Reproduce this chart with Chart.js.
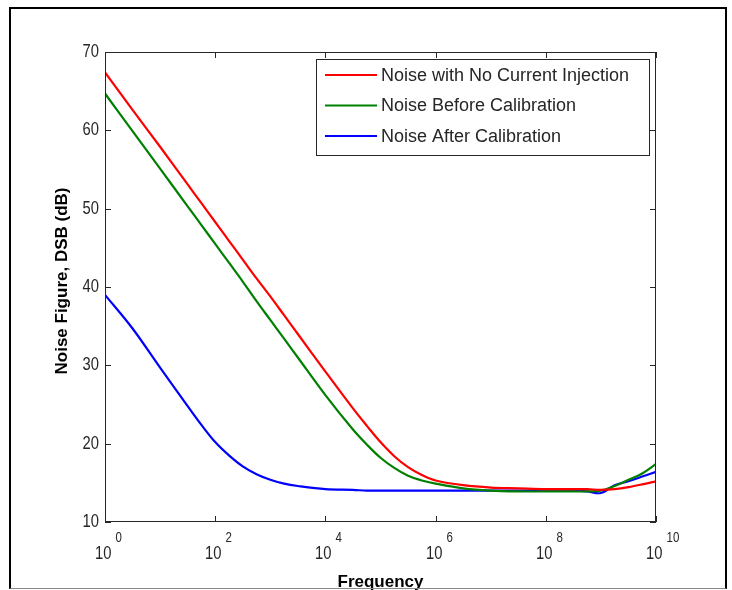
<!DOCTYPE html>
<html>
<head>
<meta charset="utf-8">
<script src="https://cdn.jsdelivr.net/npm/chart.js@4.4.0/dist/chart.umd.min.js"></script>
<style>
  html, body { margin: 0; padding: 0; background: #fff; }
  #wrap { position: relative; width: 732px; height: 590px; overflow: hidden; }
  #frame {
    position: absolute; left: 9px; top: 7px; width: 714px; height: 579px;
    border: 2px solid #000; border-bottom: 1px solid #888; pointer-events: none;
  }
</style>
</head>
<body>
<div id="wrap">
  <canvas id="chart" width="732" height="590"></canvas>
  <div id="frame"></div>
</div>
<script>
// Noise figure vs frequency (log x)

// frequency as decade exponent (10^e Hz)
const freqExp = [0, 0.5, 1, 1.5, 1.75, 2, 2.25, 2.5, 2.75, 3, 3.25, 3.5, 4, 4.5, 4.75, 5,
  5.25, 5.5, 5.75, 6, 6.5, 7, 7.5, 8, 8.5, 8.75, 9, 9.25, 9.5, 9.75, 10];

const noNoiseInjection = [67.4, 62.6, 57.9, 53.1, 50.7, 48.3, 45.9, 43.5, 41.1, 38.8, 36.4, 34.0, 29.2, 24.5, 22.3, 20.2,
  18.4, 17.0, 16.0, 15.3, 14.7, 14.4, 14.3, 14.2, 14.2, 14.2, 14.1, 14.2, 14.45, 14.8, 15.2];

const beforeCalibration = [64.7, 59.9, 55.1, 50.3, 47.9, 45.5, 43.1, 40.7, 38.2, 35.8, 33.4, 31.0, 26.2, 21.8, 19.9, 18.2,
  16.9, 15.9, 15.3, 14.9, 14.3, 14.0, 13.9, 13.9, 13.9, 13.9, 14.0, 14.6, 15.4, 16.2, 17.4];

const afterCalibration = [39.0, 34.7, 29.7, 24.8, 22.4, 20.2, 18.5, 17.1, 16.1, 15.4, 14.9, 14.6, 14.2, 14.1, 14.0, 14.0,
  14.0, 14.0, 14.0, 14.0, 14.0, 14.0, 14.0, 14.0, 14.0, 13.9, 13.7, 14.7, 15.2, 15.8, 16.4];

const seriesLabels = ['Noise with No Current Injection', 'Noise Before Calibration', 'Noise After Calibration'];
const seriesColors = ['#ff0000', '#008000', '#0000ff'];

const yTicks = [10, 20, 30, 40, 50, 60, 70];
const xTickExps = [0, 2, 4, 6, 8, 10];

const xTitle = 'Frequency';
const yTitle = 'Noise Figure, DSB (dB)';

const tickFont = '18px "Liberation Sans", Arial, sans-serif';
const expFont = '14px "Liberation Sans", Arial, sans-serif';

function toPoints(values) {
  return values.map((v, i) => ({ x: Math.pow(10, freqExp[i]), y: v }));
}

// narrow text like the old matlab helvetica
function narrowText(ctx, text, x, y) {
  ctx.save();
  ctx.translate(x, y);
  ctx.scale(0.82, 1);
  ctx.fillText(text, 0, 0);
  ctx.restore();
}

// matlab style axes: box, inward ticks, 10^n labels, titles, legend
const matlabAxes = {
  id: 'matlabAxes',
  afterDraw(chart) {
    const { ctx, chartArea: a, scales: { x, y } } = chart;
    ctx.save();
    ctx.strokeStyle = '#262626';
    ctx.lineWidth = 1;
    ctx.strokeRect(a.left + 0.5, a.top + 0.5, a.right - a.left - 1, a.bottom - a.top - 1);

    ctx.fillStyle = '#262626';
    ctx.font = tickFont;
    ctx.textAlign = 'right';
    ctx.textBaseline = 'middle';
    yTicks.forEach(v => {
      const py = Math.round(y.getPixelForValue(v)) + 0.5;
      ctx.beginPath();
      ctx.moveTo(a.left, py); ctx.lineTo(a.left + 6, py);
      ctx.moveTo(a.right - 6, py); ctx.lineTo(a.right, py);
      ctx.stroke();
      narrowText(ctx, String(v), a.left - 6, py);
    });

    xTickExps.forEach(e => {
      const px = Math.round(x.getPixelForValue(Math.pow(10, e))) + 0.5;
      ctx.beginPath();
      ctx.moveTo(px, a.bottom); ctx.lineTo(px, a.bottom - 6);
      ctx.moveTo(px, a.top); ctx.lineTo(px, a.top + 6);
      ctx.stroke();
      ctx.font = tickFont;
      ctx.textAlign = 'right';
      narrowText(ctx, '10', px + 6, a.bottom + 32);
      ctx.font = expFont;
      ctx.textAlign = 'left';
      narrowText(ctx, String(e), px + 10, a.bottom + 16);
    });

    // titles
    ctx.fillStyle = '#000';
    ctx.font = 'bold 17px "Liberation Sans", Arial, sans-serif';
    ctx.textAlign = 'center';
    ctx.fillText(xTitle, (a.left + a.right) / 2, a.bottom + 60);
    ctx.save();
    ctx.translate(62, 281);
    ctx.rotate(-Math.PI / 2);
    ctx.fillText(yTitle, 0, 0);
    ctx.restore();

    // legend
    const lx = 316.5, ly = 59.5, lw = 333, lh = 96;
    ctx.fillStyle = '#fff';
    ctx.fillRect(lx, ly, lw, lh);
    ctx.strokeStyle = '#262626';
    ctx.strokeRect(lx, ly, lw, lh);
    ctx.font = '18px "Liberation Sans", Arial, sans-serif';
    ctx.textAlign = 'left';
    chart.data.datasets.forEach((ds, i) => {
      const ry = 75 + i * 30.5;
      ctx.strokeStyle = ds.borderColor;
      ctx.lineWidth = 2;
      ctx.beginPath();
      ctx.moveTo(325, ry); ctx.lineTo(377, ry);
      ctx.stroke();
      ctx.fillStyle = '#262626';
      ctx.fillText(ds.label, 381, ry + 1);
    });
    ctx.restore();
  }
};

const seriesData = [noNoiseInjection, beforeCalibration, afterCalibration];

new Chart(document.getElementById('chart'), {
  type: 'line',
  data: {
    datasets: seriesData.map((vals, i) => ({
      label: seriesLabels[i],
      data: toPoints(vals),
      borderColor: seriesColors[i],
      borderWidth: 2.2,
      pointRadius: 0,
      fill: false,
      tension: 0.35
    }))
  },
  options: {
    responsive: false,
    animation: false,
    devicePixelRatio: 1,
    layout: { padding: { left: 105, right: 76, top: 52, bottom: 68 } },
    plugins: { legend: { display: false }, tooltip: { enabled: false } },
    scales: {
      x: { type: 'logarithmic', min: 1, max: 1e10, display: false },
      y: { type: 'linear', min: 10, max: 70, display: false }
    }
  },
  plugins: [matlabAxes]
});
</script>
</body>
</html>
